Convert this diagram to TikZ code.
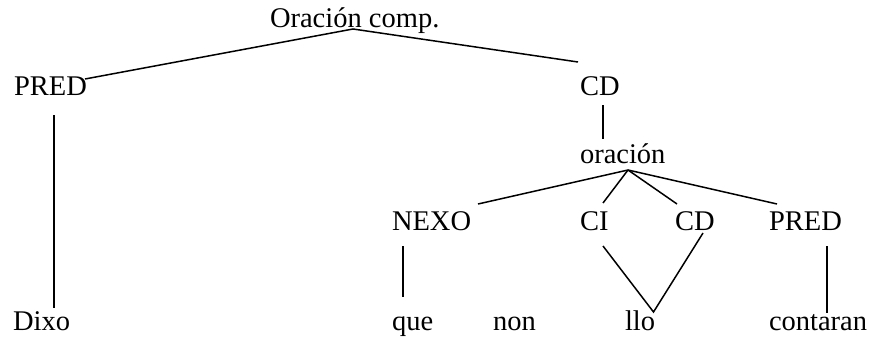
\documentclass[tikz,border=0pt]{standalone}
\usepackage{fontspec}
\setmainfont{Liberation Serif}
\begin{document}
\begin{tikzpicture}[x=1pt,y=-1pt,
  lbl/.style={anchor=base west,inner sep=0pt,outer sep=0pt,font=\fontsize{28.5}{32}\selectfont},
  edge/.style={line width=1.5pt}]
\useasboundingbox (0,0) rectangle (874,340);
% nodes
\node[lbl] (root) at (270,27) {Oración comp.};
\node[lbl] (pred1) at (14,95) {PRED};
\node[lbl] (cd1) at (580,95) {CD};
\node[lbl] (orac) at (580,163) {oración};
\node[lbl] (nexo) at (392,230) {NEXO};
\node[lbl] (ci) at (580,230) {CI};
\node[lbl] (cd2) at (675,230) {CD};
\node[lbl] (pred2) at (769,230) {PRED};
\node[lbl] (dixo) at (13,330) {Dixo};
\node[lbl] (que) at (392,330) {que};
\node[lbl] (non) at (493,330) {non};
\node[lbl] (llo) at (625,330) {llo};
\node[lbl] (contaran) at (769,330) {contaran};
% connector end points
\coordinate (root-s) at (353,29);
\coordinate (pred1-n) at (85,79);
\coordinate (cd1-n) at (578,62);
\coordinate (pred1-s) at (54,115);
\coordinate (dixo-n) at (54,308);
\coordinate (cd1-s) at (603,105);
\coordinate (orac-n) at (603,139);
\coordinate (orac-s) at (628,170);
\coordinate (nexo-n) at (478,204);
\coordinate (ci-n) at (603,203);
\coordinate (cd2-n) at (677,204);
\coordinate (pred2-n) at (777,204);
\coordinate (nexo-s) at (403,246);
\coordinate (que-n) at (403,297);
\coordinate (ci-s) at (603,246);
\coordinate (cd2-s) at (703,233);
\coordinate (llo-n) at (653.5,312);
\coordinate (pred2-s) at (827,246);
\coordinate (contaran-n) at (827,313);
% connectors
\draw[edge] (pred1-n) -- (root-s) -- (cd1-n);
\draw[edge] (pred1-s) -- (dixo-n);
\draw[edge] (cd1-s) -- (orac-n);
\draw[edge] (orac-s) -- (nexo-n);
\draw[edge] (orac-s) -- (ci-n);
\draw[edge] (orac-s) -- (cd2-n);
\draw[edge] (orac-s) -- (pred2-n);
\draw[edge] (nexo-s) -- (que-n);
\draw[edge] (ci-s) -- (llo-n) -- (cd2-s);
\draw[edge] (pred2-s) -- (contaran-n);
\end{tikzpicture}
\end{document}
